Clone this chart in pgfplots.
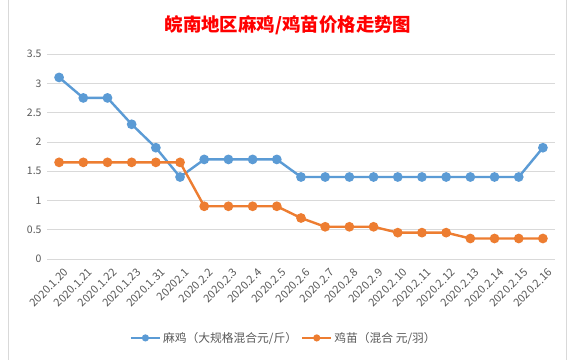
\documentclass[border=0pt]{standalone}
\usepackage{pgfplots}
\pgfplotsset{compat=1.18}
\usepackage{fontspec}
\setmainfont{Noto Sans CJK SC}
\definecolor{cblue}{HTML}{5B9BD5}
\definecolor{corange}{HTML}{ED7D31}
\definecolor{tgray}{HTML}{595959}
\definecolor{ggray}{HTML}{D9D9D9}
\begin{document}
\begin{tikzpicture}
\fill[white] (0bp,0bp) rectangle (574bp,360bp);
\useasboundingbox (0bp,0bp) rectangle (574bp,360bp);
\draw[ggray,line width=0.6bp] (8bp,0bp) -- (8bp,360bp);
\draw[ggray,line width=0.6bp] (566bp,0bp) -- (566bp,360bp);
\node[text=red,font=\fontsize{18.5}{22}\selectfont\bfseries] at (288bp,335bp) {皖南地区麻鸡/鸡苗价格走势图};
\begin{axis}[
  at={(47bp,101bp)}, anchor=south west,
  scale only axis, width=508bp, height=205bp,
  xmin=-0.5, xmax=20.5, ymin=0, ymax=3.5,
  ytick={0,0.5,...,3.5},
  xtick={0,...,20},
  xticklabels={2020.1.20,2020.1.21,2020.1.22,2020.1.23,2020.1.31,20202.1,2020.2.2,2020.2.3,2020.2.4,2020.2.5,2020.2.6,2020.2.7,2020.2.8,2020.2.9,2020.2.10,2020.2.11,2020.2.12,2020.2.13,2020.2.14,2020.2.15,2020.2.16},
  xticklabel style={rotate=45, anchor=north east, font=\fontsize{11}{12}\selectfont, text=tgray, inner sep=1bp, xshift=-2bp, yshift=-8bp},
  yticklabel style={font=\fontsize{10.5}{12}\selectfont, text=tgray, xshift=-2bp},
  /pgf/number format/assume math mode=true,
  ymajorgrids, grid style={ggray, line width=0.7bp},
  axis line style={draw=none},
  major tick length=0pt,
  legend style={at={(0.466,-0.385)}, anchor=center, draw=none, legend columns=2, font=\fontsize{11.8}{14}\selectfont, text=tgray, /tikz/every even column/.append style={column sep=2bp}, nodes={inner xsep=2bp}},
  legend image code/.code={\draw[#1,mark=none] (0,0) -- (29bp,0); \fill[#1,draw=none] (14.5bp,0) circle (3.6bp);},
]
\addplot[cblue, line width=2.4bp, mark=*, mark size=3.6bp, mark options={fill=cblue,draw=cblue}] coordinates {
(0,3.1) (1,2.75) (2,2.75) (3,2.3) (4,1.9) (5,1.4) (6,1.7) (7,1.7) (8,1.7) (9,1.7) (10,1.4) (11,1.4) (12,1.4) (13,1.4) (14,1.4) (15,1.4) (16,1.4) (17,1.4) (18,1.4) (19,1.4) (20,1.9)};
\addlegendentry{麻鸡（大规格混合元/斤）}
\addplot[corange, line width=2.4bp, mark=*, mark size=3.6bp, mark options={fill=corange,draw=corange}] coordinates {
(0,1.65) (1,1.65) (2,1.65) (3,1.65) (4,1.65) (5,1.65) (6,0.9) (7,0.9) (8,0.9) (9,0.9) (10,0.7) (11,0.55) (12,0.55) (13,0.55) (14,0.45) (15,0.45) (16,0.45) (17,0.35) (18,0.35) (19,0.35) (20,0.35)};
\addlegendentry{鸡苗（混合 元/羽）}
\end{axis}
\end{tikzpicture}
\end{document}
